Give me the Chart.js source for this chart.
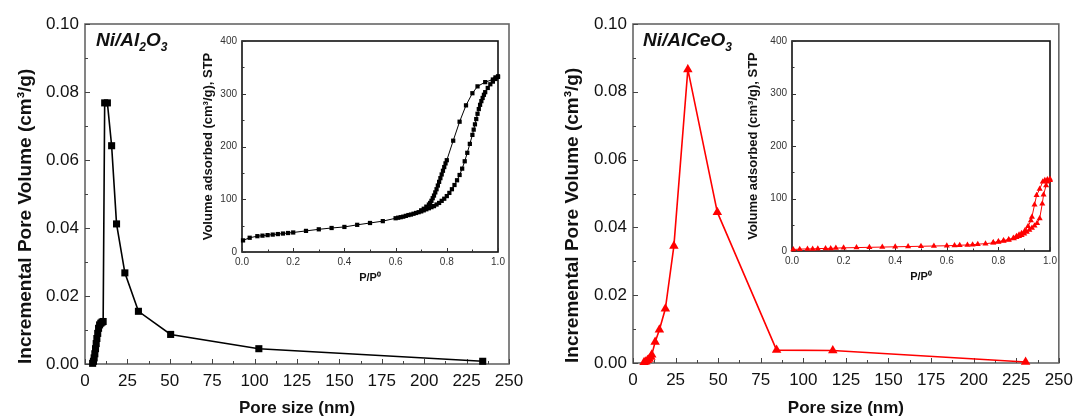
<!DOCTYPE html>
<html>
<head>
<meta charset="utf-8">
<script src="https://cdn.jsdelivr.net/npm/chart.js@4.4.1/dist/chart.umd.min.js"></script>
<style>
  html, body { margin:0; padding:0; background:#fff; }
  body { width:1080px; height:419px; position:relative; overflow:hidden; }
  canvas { position:absolute; }
  .lbl { position:absolute; font-family:'Liberation Sans', Arial, sans-serif; font-weight:bold; font-style:italic; font-size:19px; line-height:19px; color:#111; white-space:nowrap; }
  .lbl sub { font-size:12px; vertical-align:-5px; line-height:0; }
</style>
</head>
<body>
<canvas id="mainAl" width="540" height="419" style="left:0;top:0"></canvas>
<canvas id="mainCe" width="540" height="419" style="left:540px;top:0"></canvas>
<canvas id="insetAl" width="330" height="265" style="left:180px;top:30px"></canvas>
<canvas id="insetCe" width="340" height="265" style="left:730px;top:30px"></canvas>
<div class="lbl" style="left:96px;top:30px">Ni/Al<sub>2</sub>O<sub>3</sub></div>
<div class="lbl" style="left:643px;top:30px">Ni/AlCeO<sub>3</sub></div>
<script>
// ---------- data ----------
const poreSizeAl = [4.5, 5.0, 5.4, 5.8, 6.2, 6.6, 7.0, 7.5, 8.0, 8.6, 9.3, 10.0, 10.7, 11.6, 13.2, 15.7, 18.6, 23.5, 31.5, 50.5, 102.5, 234.5];
const poreVolAl  = [0.0002, 0.0008, 0.0018, 0.003, 0.0045, 0.006, 0.0075, 0.009, 0.0105, 0.0115, 0.012, 0.0123, 0.0125, 0.0768, 0.0768, 0.0642, 0.0412, 0.0268, 0.0155, 0.0087, 0.0045, 0.0008];

const poreSizeCe = [6.5, 7.5, 8.5, 9.5, 10.5, 11.0, 13.0, 15.5, 19.0, 24.0, 32.2, 49.5, 84.3, 117.3, 230.5];
const poreVolCe  = [0.0002, 0.0004, 0.0008, 0.0012, 0.0018, 0.0024, 0.0062, 0.0098, 0.016, 0.0345, 0.0866, 0.0445, 0.0038, 0.0037, 0.0003];

const isoAlAdsP = [0.004,0.03,0.06,0.08,0.1,0.12,0.14,0.16,0.18,0.2,0.25,0.3,0.35,0.4,0.45,0.5,0.55,0.6,0.61,0.62,0.63,0.64,0.65,0.66,0.67,0.68,0.69,0.70,0.71,0.72,0.73,0.74,0.75,0.76,0.77,0.78,0.79,0.80,0.81,0.82,0.83,0.84,0.85,0.86,0.87,0.88,0.89,0.90,0.905,0.91,0.915,0.92,0.925,0.93,0.935,0.94,0.945,0.95,0.96,0.97,0.98,0.99,1.0];
const isoAlAdsV = [22,27,30,31,32,33,34,35,36,37,40,43,45.5,47.5,51.5,55,58.5,64,65,66,67,68.5,70,71,72.5,74,75.5,77,79,81,83,85,87,90,93,97,101,106,112,119,127,136,146,158,172,188,205,222,232,242,252,262,271,279,286,292,298,303,311,318,323,328,332];
const isoAlDesP = [1.0,0.99,0.98,0.95,0.92,0.9,0.875,0.85,0.825,0.80,0.795,0.79,0.785,0.78,0.775,0.77,0.765,0.76,0.755,0.75,0.745,0.74,0.735,0.73,0.72,0.71,0.70];
const isoAlDesV = [333,331,327,322,314,301,278,247,211,174,168,161,154,147,140,133,126,119,113,107,102,97,93,90,86,82,79];

const isoCeAdsP = [0.005,0.03,0.06,0.08,0.1,0.13,0.15,0.17,0.2,0.25,0.3,0.35,0.4,0.45,0.5,0.55,0.6,0.63,0.65,0.68,0.7,0.72,0.75,0.78,0.8,0.82,0.84,0.86,0.87,0.88,0.89,0.9,0.91,0.92,0.93,0.94,0.95,0.96,0.97,0.975,0.985,0.99,1.0];
const isoCeAdsV = [3,3.5,4,4,4.5,5,5,5.5,6,6.5,7,7.5,8,8.5,9,9.5,10,10.5,11,11.5,12,13,14,15.5,17,19,21,24,26,28,30,33,36,40,44,48,53,62,90,107,125,132,135];
const isoCeDesP = [1.0,0.99,0.98,0.972,0.96,0.948,0.94,0.93,0.926,0.915,0.903,0.89,0.88,0.87,0.858,0.84,0.82,0.8,0.78];
const isoCeDesV = [137,136,135,132,118,106,88,65,58,47,39,34,31,28,25,22,20,18,16];

const mainXTicks = [0,25,50,75,100,125,150,175,200,225,250];
const mainYTicks = [0,0.02,0.04,0.06,0.08,0.10];
const insetXTicks = [0,0.2,0.4,0.6,0.8,1.0];
const insetYTicks = [0,100,200,300,400];

// ---------- helpers ----------
const FAM = "'Liberation Sans', Arial, sans-serif";
const pts = (xs, ys) => xs.map((x, i) => ({x, y: ys[i]}));

const framePlugin = {
  id: 'frame',
  beforeDatasetsDraw(chart, args, o) {
    const {ctx, chartArea: a, scales: {x, y}} = chart;
    ctx.save();
    ctx.strokeStyle = o.color;
    ctx.lineWidth = o.width;
    ctx.strokeRect(a.left, a.top, a.right - a.left, a.bottom - a.top);
    ctx.lineWidth = 1;
    ctx.strokeStyle = o.tickColor;
    ctx.beginPath();
    const nx = Math.round((x.max - x.min) / o.xMinor);
    for (let i = 0; i <= nx; i++) {
      const v = x.min + i * o.xMinor;
      const px = Math.round(x.getPixelForValue(v)) + 0.5;
      const len = (i % o.xEvery === 0) ? o.major : o.minor;
      ctx.moveTo(px, a.bottom); ctx.lineTo(px, a.bottom - len);
    }
    const ny = Math.round((y.max - y.min) / o.yMinor);
    for (let i = 0; i <= ny; i++) {
      const v = y.min + i * o.yMinor;
      const py = Math.round(y.getPixelForValue(v)) + 0.5;
      const len = (i % o.yEvery === 0) ? o.major : o.minor;
      ctx.moveTo(a.left, py); ctx.lineTo(a.left + len, py);
    }
    ctx.stroke();
    ctx.restore();
  }
};

function mainChart(id, xs, ys, color, style, radius, pad, yW, xH, yTitlePad) {
  return new Chart(document.getElementById(id), {
    type: 'scatter',
    data: { datasets: [{
      data: pts(xs, ys), showLine: true, borderColor: color, backgroundColor: color,
      borderWidth: 1.6, pointStyle: style, pointRadius: radius, pointHoverRadius: radius,
      pointBorderWidth: 0, clip: 10
    }]},
    options: {
      responsive: false, animation: false, events: [],
      layout: { padding: pad },
      plugins: { legend: {display: false}, tooltip: {enabled: false},
        frame: { color: '#666', width: 1.6, tickColor: '#444', xMinor: 12.5, xEvery: 2, yMinor: 0.01, yEvery: 2, major: 5, minor: 3 } },
      scales: {
        x: { type: 'linear', min: 0, max: 250,
          afterBuildTicks: s => { s.ticks = mainXTicks.map(v => ({value: v})); },
          afterFit: s => { s.height = xH; },
          grid: {display: false, drawTicks: false}, border: {display: false},
          ticks: { font: {family: FAM, size: 17}, color: '#111', padding: 7, maxRotation: 0, autoSkip: false },
          title: { display: true, text: 'Pore size (nm)', color: '#111', font: {family: FAM, size: 17, weight: 'bold', lineHeight: 1.2}, padding: {top: 0, bottom: 0} } },
        y: { type: 'linear', min: 0, max: 0.1,
          afterBuildTicks: s => { s.ticks = mainYTicks.map(v => ({value: v})); },
          afterFit: s => { s.width = yW; },
          grid: {display: false, drawTicks: false}, border: {display: false},
          ticks: { font: {family: FAM, size: 17}, color: '#111', padding: 6, callback: v => v.toFixed(2), autoSkip: false },
          title: { display: true, align: 'start', text: 'Incremental Pore Volume (cm³/g)', color: '#111', font: {family: FAM, size: 19, weight: 'bold', lineHeight: 1.2}, padding: {top: yTitlePad, bottom: 0} } }
      }
    },
    plugins: [framePlugin]
  });
}

function insetChart(id, adsP, adsV, desP, desV, color, style, radius, pad, yW, xH, yTitlePad, xTitlePad) {
  const ds = (xs, ys) => ({ data: pts(xs, ys), showLine: true, borderColor: color, backgroundColor: color,
    borderWidth: 1, pointStyle: style, pointRadius: radius, pointHoverRadius: radius, pointBorderWidth: 0, clip: 6 });
  return new Chart(document.getElementById(id), {
    type: 'scatter',
    data: { datasets: [ds(adsP, adsV), ds(desP, desV)] },
    options: {
      responsive: false, animation: false, events: [],
      layout: { padding: pad },
      plugins: { legend: {display: false}, tooltip: {enabled: false},
        frame: { color: '#111', width: 1.6, tickColor: '#333', xMinor: 0.1, xEvery: 2, yMinor: 50, yEvery: 2, major: 4, minor: 2.5 } },
      scales: {
        x: { type: 'linear', min: 0, max: 1,
          afterBuildTicks: s => { s.ticks = insetXTicks.map(v => ({value: v})); },
          afterFit: s => { s.height = xH; },
          grid: {display: false, drawTicks: false}, border: {display: false},
          ticks: { font: {family: FAM, size: 10}, color: '#333', padding: 4, maxRotation: 0, autoSkip: false, callback: v => v.toFixed(1) },
          title: { display: true, text: 'P/P⁰', color: '#111', font: {family: FAM, size: 11, weight: 'bold', lineHeight: 1.2}, padding: {top: 0, bottom: xTitlePad} } },
        y: { type: 'linear', min: 0, max: 400,
          afterBuildTicks: s => { s.ticks = insetYTicks.map(v => ({value: v})); },
          afterFit: s => { s.width = yW; },
          grid: {display: false, drawTicks: false}, border: {display: false},
          ticks: { font: {family: FAM, size: 10}, color: '#333', padding: 5, autoSkip: false },
          title: { display: true, text: 'Volume adsorbed (cm³/g), STP', color: '#111', font: {family: FAM, size: 13, weight: 'bold', lineHeight: 1.2}, padding: {top: yTitlePad, bottom: 0} } }
      }
    },
    plugins: [framePlugin]
  });
}

mainChart('mainAl', poreSizeAl, poreVolAl, '#000', 'rect', 5, {left: 0, top: 24, right: 31, bottom: 0}, 85, 55, 14);
mainChart('mainCe', poreSizeCe, poreVolCe, '#ff0000', 'triangle', 5.5, {left: 0, top: 24, right: 17, bottom: 0}, 93, 56, 21.5);
insetChart('insetAl', isoAlAdsP, isoAlAdsV, isoAlDesP, isoAlDesV, '#000', 'rect', 3, {left: 0, top: 6, right: 12, bottom: 0}, 62, 43, 21, 10);
insetChart('insetCe', isoCeAdsP, isoCeAdsV, isoCeDesP, isoCeDesV, '#ff0000', 'triangle', 3.5, {left: 0, top: 6, right: 20, bottom: 0}, 62, 44, 16, 11);
</script>
</body>
</html>
